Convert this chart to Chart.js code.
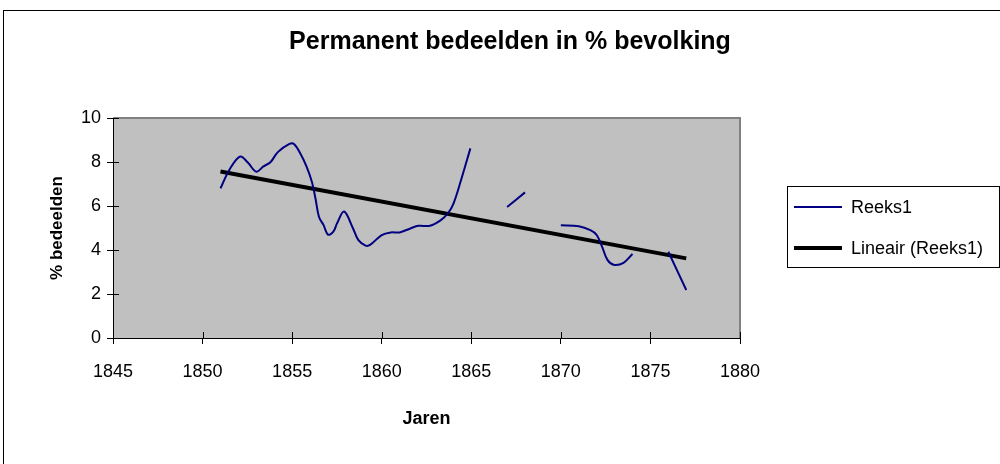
<!DOCTYPE html>
<html>
<head>
<meta charset="utf-8">
<script src="https://cdn.jsdelivr.net/npm/chart.js@4/dist/chart.umd.min.js"></script>
<style>
html, body { margin: 0; padding: 0; background: #fff; }
</style>
</head>
<body>
<canvas id="myChart" width="1000" height="464"></canvas>
<script>
// Permanent bedeelden (% of population); null = gap
var years = [1851, 1851.5, 1852.1, 1852.55, 1853, 1853.4, 1853.8, 1854.2, 1854.85, 1855.1, 1855.45,
             1855.8, 1856.1, 1856.3, 1856.5, 1856.75, 1857, 1857.3, 1857.5, 1857.9, 1858.4, 1858.7,
             1859.1, 1859.35, 1860, 1860.5, 1861, 1861.6, 1862.05, 1862.7, 1863.3, 1863.7, 1864,
             1864.4, 1864.95,
             1866,
             1867, 1868,
             1869,
             1870, 1871, 1871.65, 1872, 1872.3, 1872.6, 1872.95, 1873.5, 1874,
             1875,
             1876, 1877];
var values = [6.8, 7.65, 8.25, 7.95, 7.56, 7.8, 8.0, 8.45, 8.82, 8.82, 8.4,
              7.8, 7.1, 6.35, 5.5, 5.14, 4.7, 4.83, 5.2, 5.75, 4.98, 4.45,
              4.2, 4.23, 4.68, 4.8, 4.8, 4.98, 5.1, 5.1, 5.36, 5.67, 6.1,
              7.1, 8.62,
              null,
              5.95, 6.62,
              null,
              5.12, 5.08, 4.9, 4.68, 4.15, 3.55, 3.33, 3.42, 3.82,
              null,
              3.92, 2.18];

// linear trend line (Excel "Lineair") end points
var trendYears = [1851, 1877];
var trendValues = [7.57, 3.62];

var xTicks = [1845, 1850, 1855, 1860, 1865, 1870, 1875, 1880];
var yTicks = [0, 2, 4, 6, 8, 10];

Chart.defaults.font.family = "'Liberation Sans', Arial, sans-serif";
Chart.defaults.color = '#000';

var series = years.map(function (y, i) { return { x: y, y: values[i] }; });
var trend = trendYears.map(function (y, i) { return { x: y, y: trendValues[i] }; });

var excelLook = {
    id: 'excelLook',
    beforeDraw: function (chart) {
        var c = chart.ctx, a = chart.chartArea;
        c.save();
        c.fillStyle = '#fff';
        c.fillRect(0, 0, chart.width, chart.height);
        // outer chart border
        c.strokeStyle = '#000';
        c.lineWidth = 1;
        c.strokeRect(3.5, 10.5, 1200, 1000);
        // grey plot area
        c.fillStyle = '#c0c0c0';
        c.fillRect(a.left, a.top, a.right - a.left, a.bottom - a.top);
        c.strokeStyle = '#808080';
        c.lineWidth = 2;
        c.beginPath();
        c.moveTo(a.left, a.top);
        c.lineTo(a.right, a.top);
        c.lineTo(a.right, a.bottom);
        c.stroke();
        // inner half of the cross tick marks
        c.strokeStyle = '#000';
        c.lineWidth = 1;
        c.beginPath();
        chart.scales.x.ticks.forEach(function (t) {
            var px = Math.round(chart.scales.x.getPixelForValue(t.value)) + 0.5;
            c.moveTo(px, a.bottom);
            c.lineTo(px, a.bottom - 6);
        });
        chart.scales.y.ticks.forEach(function (t) {
            var py = Math.round(chart.scales.y.getPixelForValue(t.value)) + 0.5;
            c.moveTo(a.left, py);
            c.lineTo(a.left + 6, py);
        });
        c.stroke();
        c.restore();
    },
    afterDraw: function (chart) {
        var c = chart.ctx;
        var ds = chart.data.datasets;
        c.save();
        c.strokeStyle = '#000';
        c.lineWidth = 1;
        c.strokeRect(787.5, 186.5, 212, 81);
        c.font = "18px 'Liberation Sans', Arial, sans-serif";
        c.fillStyle = '#000';
        c.textBaseline = 'middle';
        var rows = [207, 248];
        ds.forEach(function (d, i) {
            c.strokeStyle = d.borderColor;
            c.lineWidth = d.borderWidth;
            c.beginPath();
            c.moveTo(794, rows[i]);
            c.lineTo(842, rows[i]);
            c.stroke();
            c.fillText(d.label, 851, rows[i] + 1);
        });
        c.restore();
    }
};

var ctx = document.getElementById('myChart').getContext('2d');
var myChart = new Chart(ctx, {
    type: 'line',
    data: {
        datasets: [{
            label: 'Reeks1',
            data: series,
            borderColor: '#000080',
            borderWidth: 2,
            pointRadius: 0,
            tension: 0.35,
            spanGaps: false,
            fill: false
        }, {
            label: 'Lineair (Reeks1)',
            data: trend,
            borderColor: '#000',
            borderWidth: 4,
            pointRadius: 0,
            fill: false
        }]
    },
    options: {
        responsive: false,
        animation: false,
        events: [],
        layout: { padding: { left: 20, right: 0, top: 0, bottom: 0 } },
        plugins: {
            legend: { display: false },
            tooltip: { enabled: false },
            title: {
                display: true,
                text: 'Permanent bedeelden in % bevolking',
                font: { size: 25, weight: 'bold' },
                padding: { top: 27.5, bottom: 60.5 }
            }
        },
        scales: {
            x: {
                type: 'linear',
                min: xTicks[0],
                max: xTicks[xTicks.length - 1],
                afterBuildTicks: function (s) {
                    s.ticks = xTicks.map(function (v) { return { value: v }; });
                },
                afterFit: function (s) {
                    s.paddingRight = 260;
                    s.height = 126;
                },
                grid: { drawOnChartArea: false, tickLength: 6, color: '#000' },
                border: { color: '#000', width: 1 },
                ticks: {
                    font: { size: 18 },
                    padding: 17,
                    maxRotation: 0,
                    callback: function (v) { return String(v); }
                },
                title: {
                    display: true,
                    text: 'Jaren',
                    font: { size: 18, weight: 'bold' },
                    padding: { top: 0, bottom: 34 }
                }
            },
            y: {
                min: yTicks[0],
                max: yTicks[yTicks.length - 1],
                afterBuildTicks: function (s) {
                    s.ticks = yTicks.map(function (v) { return { value: v }; });
                },
                afterFit: function (s) { s.width = 93; },
                grid: { drawOnChartArea: false, tickLength: 6, color: '#000' },
                border: { color: '#000', width: 1 },
                ticks: { font: { size: 18 }, padding: 6 },
                title: {
                    display: true,
                    text: '% bedeelden',
                    font: { size: 17, weight: 'bold' },
                    padding: { top: 27, bottom: 0 }
                }
            }
        }
    },
    plugins: [excelLook]
});
</script>
</body>
</html>
